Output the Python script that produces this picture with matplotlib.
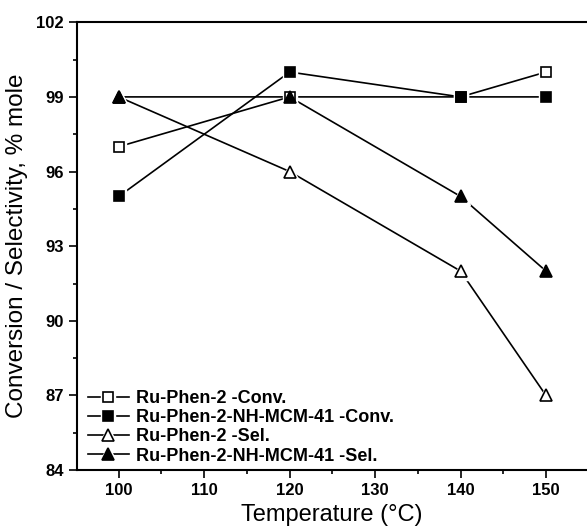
import numpy as np
import matplotlib
matplotlib.use('Agg')
import matplotlib.pyplot as plt
from matplotlib.ticker import MultipleLocator
from matplotlib.legend_handler import HandlerTuple

plt.rcParams['font.family'] = ['Liberation Sans', 'DejaVu Sans']

# Data
temperature = [100, 120, 140, 150]
ru_conv = [97, 99, 99, 100]
mcm_conv = [95, 100, 99, 99]
ru_sel = [99, 96, 92, 87]
mcm_sel = [99, 99, 95, 92]

labels = ['Ru-Phen-2 -Conv.', 'Ru-Phen-2-NH-MCM-41 -Conv.',
          'Ru-Phen-2 -Sel.', 'Ru-Phen-2-NH-MCM-41 -Sel.']
series = [ru_conv, mcm_conv, ru_sel, mcm_sel]
markers = ['s', 's', '^', '^']
sizes = [6.5, 6.5, 8.5, 8.5]
faces = ['white', 'black', 'white', 'black']

fig = plt.figure(figsize=(5.87, 5.30), dpi=100)
ax = fig.add_axes([0.131, 0.113, 0.869, 0.845])

handles = []
for y, m, ms, fc in zip(series, markers, sizes, faces):
    # Origin-style: line stops short of each marker
    ln, = ax.plot(temperature, y, '-', color='black', lw=1.2, zorder=2)
    halo, = ax.plot(temperature, y, ls='none', marker=m, ms=ms + 4,
                    mfc='white', mec='white', zorder=3)
    mk, = ax.plot(temperature, y, ls='none', marker=m, ms=ms,
                  mfc=fc, mec='black', mew=1.2, zorder=4)
    handles.append((ln, halo, mk))

ax.set_xlim(95.1, 154.8)
ax.set_ylim(84, 102)
ax.xaxis.set_major_locator(MultipleLocator(10))
ax.xaxis.set_minor_locator(MultipleLocator(5))
ax.yaxis.set_major_locator(MultipleLocator(3))
ax.yaxis.set_minor_locator(MultipleLocator(1.5))

ax.spines['right'].set_visible(False)
for s in ['left', 'bottom', 'top']:
    ax.spines[s].set_linewidth(1.5)
ax.tick_params(which='both', direction='out', width=1.2, labelsize=12, pad=3.5)
ax.tick_params(which='major', length=6)
ax.tick_params(which='minor', length=3)
for lab in ax.get_xticklabels() + ax.get_yticklabels():
    lab.set_fontweight('bold')

ax.set_xlabel('Temperature (°C)', fontsize=17, labelpad=4)
ax.set_ylabel('Conversion / Selectivity, % mole', fontsize=17.5, labelpad=6)

ax.legend(handles, labels, handler_map={tuple: HandlerTuple(ndivide=1)},
          loc='lower left', frameon=False, handlelength=2.3,
          handletextpad=0.4, labelspacing=0.12, borderaxespad=0.2,
          bbox_to_anchor=(0.0, -0.012),
          prop={'size': 13, 'weight': 'bold'})

fig.savefig('out.png', dpi=100)
